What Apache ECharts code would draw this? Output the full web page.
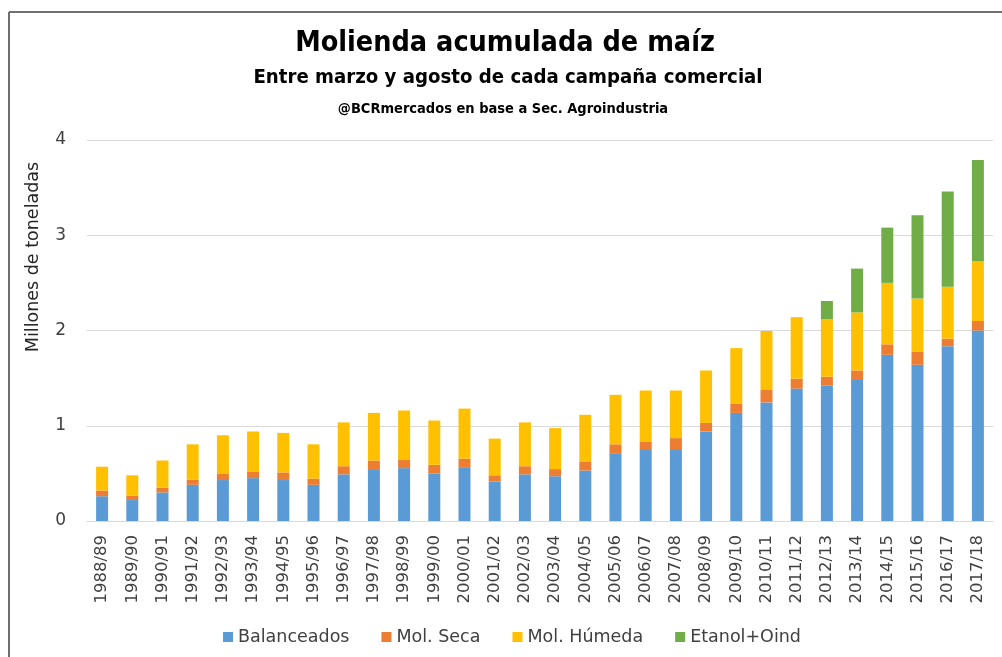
<!DOCTYPE html>
<html>
<head>
<meta charset="utf-8">
<title>Molienda acumulada de maíz</title>
<script src="https://cdn.jsdelivr.net/npm/echarts@6/dist/echarts.min.js"></script>
<style>
  html, body { margin: 0; padding: 0; background: #fff; }
  #chart { width: 1002px; height: 657px; }
</style>
</head>
<body>
<div id="chart"></div>
<script>
"use strict";

/***** Data *****/
var campaigns = ['1988/89', '1989/90', '1990/91', '1991/92', '1992/93', '1993/94', '1994/95', '1995/96',
	'1996/97', '1997/98', '1998/99', '1999/00', '2000/01', '2001/02', '2002/03', '2003/04', '2004/05',
	'2005/06', '2006/07', '2007/08', '2008/09', '2009/10', '2010/11', '2011/12', '2012/13', '2013/14',
	'2014/15', '2015/16', '2016/17', '2017/18'];
var balanceados = [0.26, 0.22, 0.30, 0.38, 0.43, 0.45, 0.43, 0.38, 0.49, 0.545, 0.555, 0.50, 0.565, 0.415,
	0.49, 0.47, 0.53, 0.705, 0.745, 0.745, 0.94, 1.135, 1.245, 1.39, 1.42, 1.48, 1.745, 1.64, 1.835, 2.0];
var molSeca = [0.06, 0.045, 0.05, 0.055, 0.07, 0.065, 0.08, 0.065, 0.085, 0.09, 0.085, 0.09, 0.09, 0.065,
	0.085, 0.075, 0.09, 0.10, 0.085, 0.125, 0.09, 0.095, 0.13, 0.105, 0.095, 0.10, 0.11, 0.135, 0.08, 0.10];
var molHumeda = [0.25, 0.215, 0.285, 0.37, 0.40, 0.425, 0.415, 0.36, 0.46, 0.50, 0.52, 0.465, 0.525, 0.385,
	0.46, 0.43, 0.495, 0.52, 0.54, 0.50, 0.55, 0.585, 0.62, 0.645, 0.605, 0.61, 0.645, 0.56, 0.545, 0.63];
var etanolOind = [null, null, null, null, null, null, null, null, null, null, null, null, null, null,
	null, null, null, null, null, null, null, null, null, null, 0.19, 0.46, 0.58, 0.875, 1.0, 1.06];
var yTicks = [0, 1, 2, 3, 4];

/***** Chart *****/
var chart = echarts.init(document.getElementById('chart'), null, { renderer: 'canvas' });
var labelFont = '"DejaVu Sans", sans-serif';
var titleFont = '"DejaVu Sans Condensed", "Liberation Sans Narrow", sans-serif';

function stackSeries(name, data, color) {
	return {
		name: name,
		type: 'bar',
		stack: 'total',
		data: data,
		barWidth: 12,
		itemStyle: { color: color },
		emphasis: { disabled: true }
	};
}

var option = {
	animation: false,
	backgroundColor: '#fff',
	textStyle: { fontFamily: labelFont },
	graphic: [
		{ type: 'line', shape: { x1: 9, y1: 12, x2: 1002, y2: 12 }, style: { stroke: '#6f6f6f', lineWidth: 2 } },
		{ type: 'line', shape: { x1: 9, y1: 12, x2: 9, y2: 657 }, style: { stroke: '#6f6f6f', lineWidth: 2 } },
		{ type: 'text', x: 505, y: 29, style: { text: 'Molienda acumulada de maíz', textAlign: 'center',
			fontFamily: titleFont, fontWeight: 'bold', fontSize: 28.5, fill: '#000' } },
		{ type: 'text', x: 508, y: 68, style: { text: 'Entre marzo y agosto de cada campaña comercial', textAlign: 'center',
			fontFamily: titleFont, fontWeight: 'bold', fontSize: 20.2, fill: '#000' } },
		{ type: 'text', x: 503, y: 102, style: { text: '@BCRmercados en base a Sec. Agroindustria', textAlign: 'center',
			fontFamily: titleFont, fontWeight: 'bold', fontSize: 14.5, fill: '#000' } },
		{ type: 'text', x: 33, y: 257, rotation: Math.PI / 2, style: { text: 'Millones de toneladas', textAlign: 'center',
			textVerticalAlign: 'middle', fontFamily: labelFont, fontSize: 17.5, fill: '#262626' } }
	],
	legend: {
		data: ['Balanceados', 'Mol. Seca', 'Mol. Húmeda', 'Etanol+Oind'],
		left: 218,
		top: 623,
		icon: 'rect',
		itemWidth: 10,
		itemHeight: 10,
		itemGap: 32,
		textStyle: { fontFamily: labelFont, fontSize: 17.5, color: '#404040' }
	},
	grid: { left: 87, right: 9, top: 140, bottom: 136 },
	xAxis: {
		type: 'category',
		data: campaigns,
		axisLine: { lineStyle: { color: '#d9d9d9', width: 1 } },
		axisTick: { show: false },
		axisLabel: { rotate: 90, margin: 14, interval: 0, fontFamily: labelFont, fontSize: 16.5, color: '#404040' }
	},
	yAxis: {
		type: 'value',
		min: yTicks[0],
		max: yTicks[yTicks.length - 1],
		interval: 1,
		axisLine: { show: false },
		axisTick: { show: false },
		axisLabel: { margin: 21, fontFamily: labelFont, fontSize: 17, color: '#404040' },
		splitLine: { lineStyle: { color: '#d9d9d9', width: 1 } }
	},
	series: [
		stackSeries('Balanceados', balanceados, '#5b9bd5'),
		stackSeries('Mol. Seca', molSeca, '#ed7d31'),
		stackSeries('Mol. Húmeda', molHumeda, '#ffc000'),
		stackSeries('Etanol+Oind', etanolOind, '#70ad47')
	]
};
chart.setOption(option);
</script>
</body>
</html>
